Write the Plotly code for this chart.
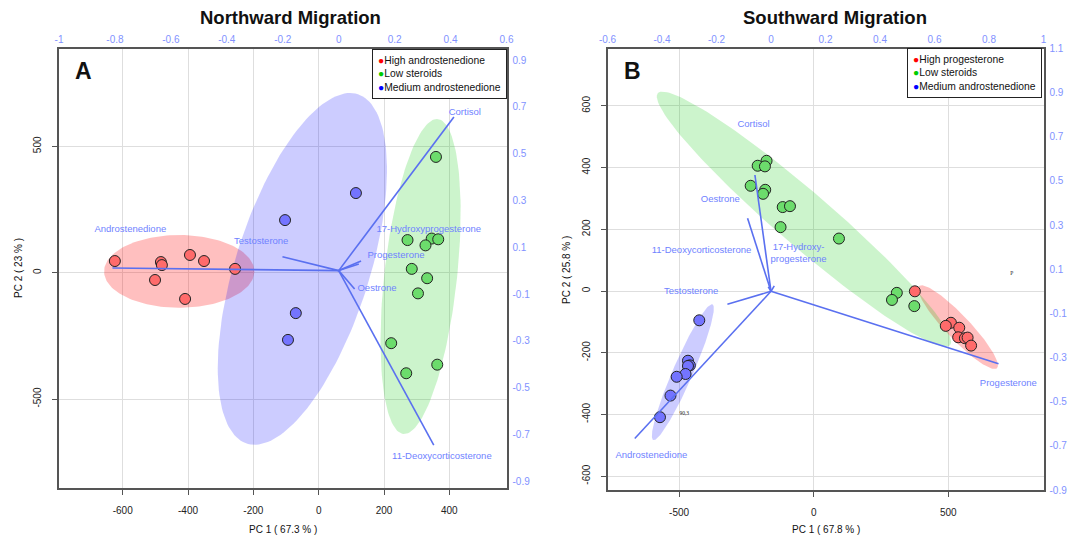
import numpy as np
import plotly.graph_objects as go

# ---------------- DATA : Northward migration (panel A) ----------------
north_groups = ["High androstenedione", "Low steroids", "Medium androstenedione"]
north_high_x = [-624, -483, -480, -394, -351, -256, -501, -409]
north_high_y = [46, 42, 30, 70, 46, 15, -29, -104]
north_low_x = [272, 346, 366, 327, 285, 332, 304, 222, 363, 268, 359]
north_low_y = [129, 135, 132, 108, 15, -22, -82, -279, -364, -398, 458]
north_med_x = [114, -103, -70, -94]
north_med_y = [315, 208, -160, -266]

north_vars = ["Androstenedione", "Testosterone", "Cortisol", "17-Hydroxyprogesterone",
              "Progesterone", "Oestrone", "11-Deoxycorticosterone"]
north_load_x = [-0.809, -0.201, 0.412, 0.080, 0.072, 0.057, 0.340]
north_load_y = [0.011, 0.059, 0.656, 0.041, 0.028, -0.079, -0.746]
north_lab_x = [-0.745, -0.277, 0.451, 0.322, 0.205, 0.137, 0.369]
north_lab_y = [0.173, 0.122, 0.677, 0.177, 0.066, -0.079, -0.793]

# ellipse: centre, semi-diameter u, conjugate semi-diameter v (data units)
north_ell_c = [[-427, 5], [312, -15], [-50, 15]]
north_ell_u = [[230, 0], [50, 623], [146, 696]]
north_ell_v = [[0, 144], [112, 0], [214, 0]]

# ---------------- DATA : Southward migration (panel B) ----------------
south_groups = ["High progesterone", "Low steroids", "Medium androstenedione"]
south_high_x = [376, 510, 491, 541, 537, 562, 572, 585]
south_high_y = [-1, -103, -113, -119, -150, -153, -151, -177]
south_low_x = [-175, -208, -181, -234, -180, -188, -115, -88, -123, 94, 309, 291, 374]
south_low_y = [422, 406, 404, 341, 328, 315, 272, 275, 207, 170, -6, -29, -49]
south_med_x = [-425, -467, -460, -467, -476, -509, -532, -571]
south_med_y = [-95, -226, -241, -243, -269, -278, -339, -409]

south_vars = ["Cortisol", "Oestrone", "11-Deoxycorticosterone", "17-Hydroxy-<br>progesterone",
              "Testosterone", "Androstenedione", "Progesterone"]
south_load_x = [-0.059, -0.086, -0.010, 0.012, -0.160, -0.500, 0.835]
south_load_y = [0.527, 0.331, 0.020, 0.025, -0.059, -0.667, -0.328]
south_lab_x = [-0.064, -0.186, -0.255, 0.101, -0.293, -0.439, 0.871]
south_lab_y = [0.756, 0.414, 0.185, 0.170, 0.000, -0.745, -0.417]

south_ell_c = [[536, -117], [-36, 233], [-486, -263]]
south_ell_u = [[145, -133], [543, -408], [110, 220]]
south_ell_v = [[32, 27], [65, 66], [34, -13]]

# tick values / labels
north_xticks = [-600, -400, -200, 0, 200, 400]
north_yticks = [-500, 0, 500]
north_top_ticks = [-1, -0.8, -0.6, -0.4, -0.2, 0, 0.2, 0.4, 0.6]
north_right_ticks = [-0.9, -0.7, -0.5, -0.3, -0.1, 0.1, 0.3, 0.5, 0.7, 0.9]
south_xticks = [-500, 0, 500]
south_yticks = [-600, -400, -200, 0, 200, 400, 600]
south_top_ticks = [-0.6, -0.4, -0.2, 0, 0.2, 0.4, 0.6, 0.8, 1]
south_right_ticks = [-0.9, -0.7, -0.5, -0.3, -0.1, 0.1, 0.3, 0.5, 0.7, 0.9, 1.1]

# ---------------- STYLE ----------------
W, H = 1077, 537
FONT = "Liberation Sans, Arial, Helvetica, sans-serif"
PT_FILL = ["#ff6b6b", "#6cdc6c", "#7474ff"]
ELL_FILL = ["rgba(255,0,0,0.25)", "rgba(0,200,0,0.2)", "rgba(0,0,255,0.2)"]
DOT = ["#ff0000", "#00cc00", "#0000ff"]
ARROW = "#5a70f0"
LAB = "#6f82ff"
TICKBLUE = "#8292ff"


def fx(p):
    return p / W


def fy(p):
    return 1 - p / H


def lbl(v):
    return "%g" % v


fig = go.Figure()


def ellipse(c, u, v, n=160):
    t = np.linspace(0, 2 * np.pi, n)
    return (c[0] + u[0] * np.cos(t) + v[0] * np.sin(t),
            c[1] + u[1] * np.cos(t) + v[1] * np.sin(t))


def add_panel(xa, ya, xa2, ya2, groups_xy, ell_c, ell_u, ell_v, lx, ly, labx, laby, names):
    for i in range(3):
        ex, ey = ellipse(ell_c[i], ell_u[i], ell_v[i])
        fig.add_trace(go.Scatter(x=ex, y=ey, mode="lines", fill="toself",
                                 fillcolor=ELL_FILL[i], line=dict(width=0),
                                 xaxis=xa, yaxis=ya, showlegend=False, hoverinfo="skip"))
    for i, (gx, gy) in enumerate(groups_xy):
        fig.add_trace(go.Scatter(x=gx, y=gy, mode="markers",
                                 marker=dict(size=11, color=PT_FILL[i],
                                             line=dict(color="#222", width=1)),
                                 xaxis=xa, yaxis=ya, showlegend=False))
    ax, ay = [], []
    for a, b in zip(lx, ly):
        ax += [0, a, None]
        ay += [0, b, None]
    fig.add_trace(go.Scatter(x=ax, y=ay, mode="lines", line=dict(color=ARROW, width=1.6),
                             xaxis=xa2, yaxis=ya2, showlegend=False, hoverinfo="skip"))
    fig.add_trace(go.Scatter(x=labx, y=laby, mode="text", text=names,
                             textposition="middle center",
                             textfont=dict(family=FONT, size=9.5, color=LAB),
                             xaxis=xa2, yaxis=ya2, showlegend=False))


add_panel("x", "y", "x2", "y2",
          [(north_high_x, north_high_y), (north_low_x, north_low_y), (north_med_x, north_med_y)],
          north_ell_c, north_ell_u, north_ell_v,
          north_load_x, north_load_y, north_lab_x, north_lab_y, north_vars)
add_panel("x3", "y3", "x4", "y4",
          [(south_high_x, south_high_y), (south_low_x, south_low_y), (south_med_x, south_med_y)],
          south_ell_c, south_ell_u, south_ell_v,
          south_load_x, south_load_y, south_lab_x, south_lab_y, south_vars)

# stray tiny labels in panel B
fig.add_trace(go.Scatter(x=[736, -481], y=[55, -398], mode="text", text=["P", "90,3"],
                         textfont=dict(family="Liberation Serif, serif", size=5.5, color="#222"),
                         xaxis="x3", yaxis="y3", showlegend=False))

# domains
L_dom_x = [fx(59), fx(506.5)]
L_dom_y = [fy(488), fy(49)]
R_dom_x = [fx(607.5), fx(1043.5)]
R_dom_y = [fy(490), fy(48.5)]

prim = dict(showgrid=True, gridcolor="#dedede", gridwidth=1, zeroline=False,
            showline=True, linecolor="#555", linewidth=1.5, mirror=True,
            ticks="outside", ticklen=5, tickcolor="#555", tickwidth=1, automargin=False,
            tickfont=dict(family=FONT, size=10, color="#222"), ticklabelstandoff=7)
sec = dict(showgrid=False, zeroline=False, showline=False, ticks="", automargin=False,
           tickfont=dict(family=FONT, size=10, color=TICKBLUE))

fig.update_layout(
    width=W, height=H, margin=dict(l=0, r=0, t=0, b=0, autoexpand=False),
    paper_bgcolor="white", plot_bgcolor="white", showlegend=False,
    xaxis=dict(domain=L_dom_x, range=[-795, 575], anchor="y",
               tickvals=north_xticks, ticktext=[lbl(v) for v in north_xticks], **prim),
    yaxis=dict(domain=L_dom_y, range=[-852, 885], anchor="x", tickangle=-90,
               tickvals=north_yticks, ticktext=[lbl(v) for v in north_yticks], **prim),
    xaxis2=dict(overlaying="x", side="top", anchor="y", range=[-1, 0.6],
                tickvals=north_top_ticks, ticktext=[lbl(v) for v in north_top_ticks],
                ticklabelstandoff=3, **sec),
    yaxis2=dict(overlaying="y", side="right", anchor="x", range=[-0.929, 0.947],
                tickvals=north_right_ticks, ticktext=[lbl(v) for v in north_right_ticks],
                ticklabelstandoff=5, **sec),
    xaxis3=dict(domain=R_dom_x, range=[-766, 854], anchor="y3",
                tickvals=south_xticks, ticktext=[lbl(v) for v in south_xticks], **prim),
    yaxis3=dict(domain=R_dom_y, range=[-645, 786], anchor="x3", tickangle=-90,
                tickvals=south_yticks, ticktext=[lbl(v) for v in south_yticks], **prim),
    xaxis4=dict(overlaying="x3", side="top", anchor="y3", range=[-0.6, 1.0],
                tickvals=south_top_ticks, ticktext=[lbl(v) for v in south_top_ticks],
                ticklabelstandoff=3, **sec),
    yaxis4=dict(overlaying="y3", side="right", anchor="x3", range=[-0.9, 1.1],
                tickvals=south_right_ticks, ticktext=[lbl(v) for v in south_right_ticks],
                ticklabelstandoff=5, **sec),
)


def ann(text, x, y, size, bold=False, angle=0, color="#111", **kw):
    t = "<b>%s</b>" % text if bold else text
    fig.add_annotation(text=t, x=x, y=y, xref="paper", yref="paper", showarrow=False,
                       xanchor="center", yanchor="middle",
                       textangle=angle, font=dict(family=FONT, size=size, color=color), **kw)


ann("Northward Migration", fx(291), fy(18), 18.5, bold=True)
ann("Southward Migration", fx(835), fy(18), 18.5, bold=True)
ann("A", fx(83), fy(71), 23, bold=True)
ann("B", fx(632), fy(71), 23, bold=True)
ann("PC 1 ( 67.3 % )", fx(283), fy(529), 10)
ann("PC 1 ( 67.8 % )", fx(826), fy(529), 10)
ann("PC 2 ( 23 % )", fx(19), fy(268), 10, angle=-90)
ann("PC 2 ( 25.8 % )", fx(566), fy(270), 10, angle=-90)


def legend(groups, xr, yt):
    lines = ["<span style='color:%s'>●</span>%s" % (DOT[i], g) for i, g in enumerate(groups)]
    fig.add_annotation(text="<br>".join(lines), x=xr, y=yt, xref="paper", yref="paper",
                       xanchor="right", yanchor="top", align="left", showarrow=False,
                       bgcolor="white", bordercolor="#222", borderwidth=1, borderpad=5,
                       font=dict(family=FONT, size=10.3, color="#111"))


legend(north_groups, fx(506.5), fy(48.5))
legend(south_groups, fx(1042), fy(48))

fig.write_html("out.html", config={"displayModeBar": False},
               post_script="document.body.style.margin='0';document.body.style.padding='0';")
